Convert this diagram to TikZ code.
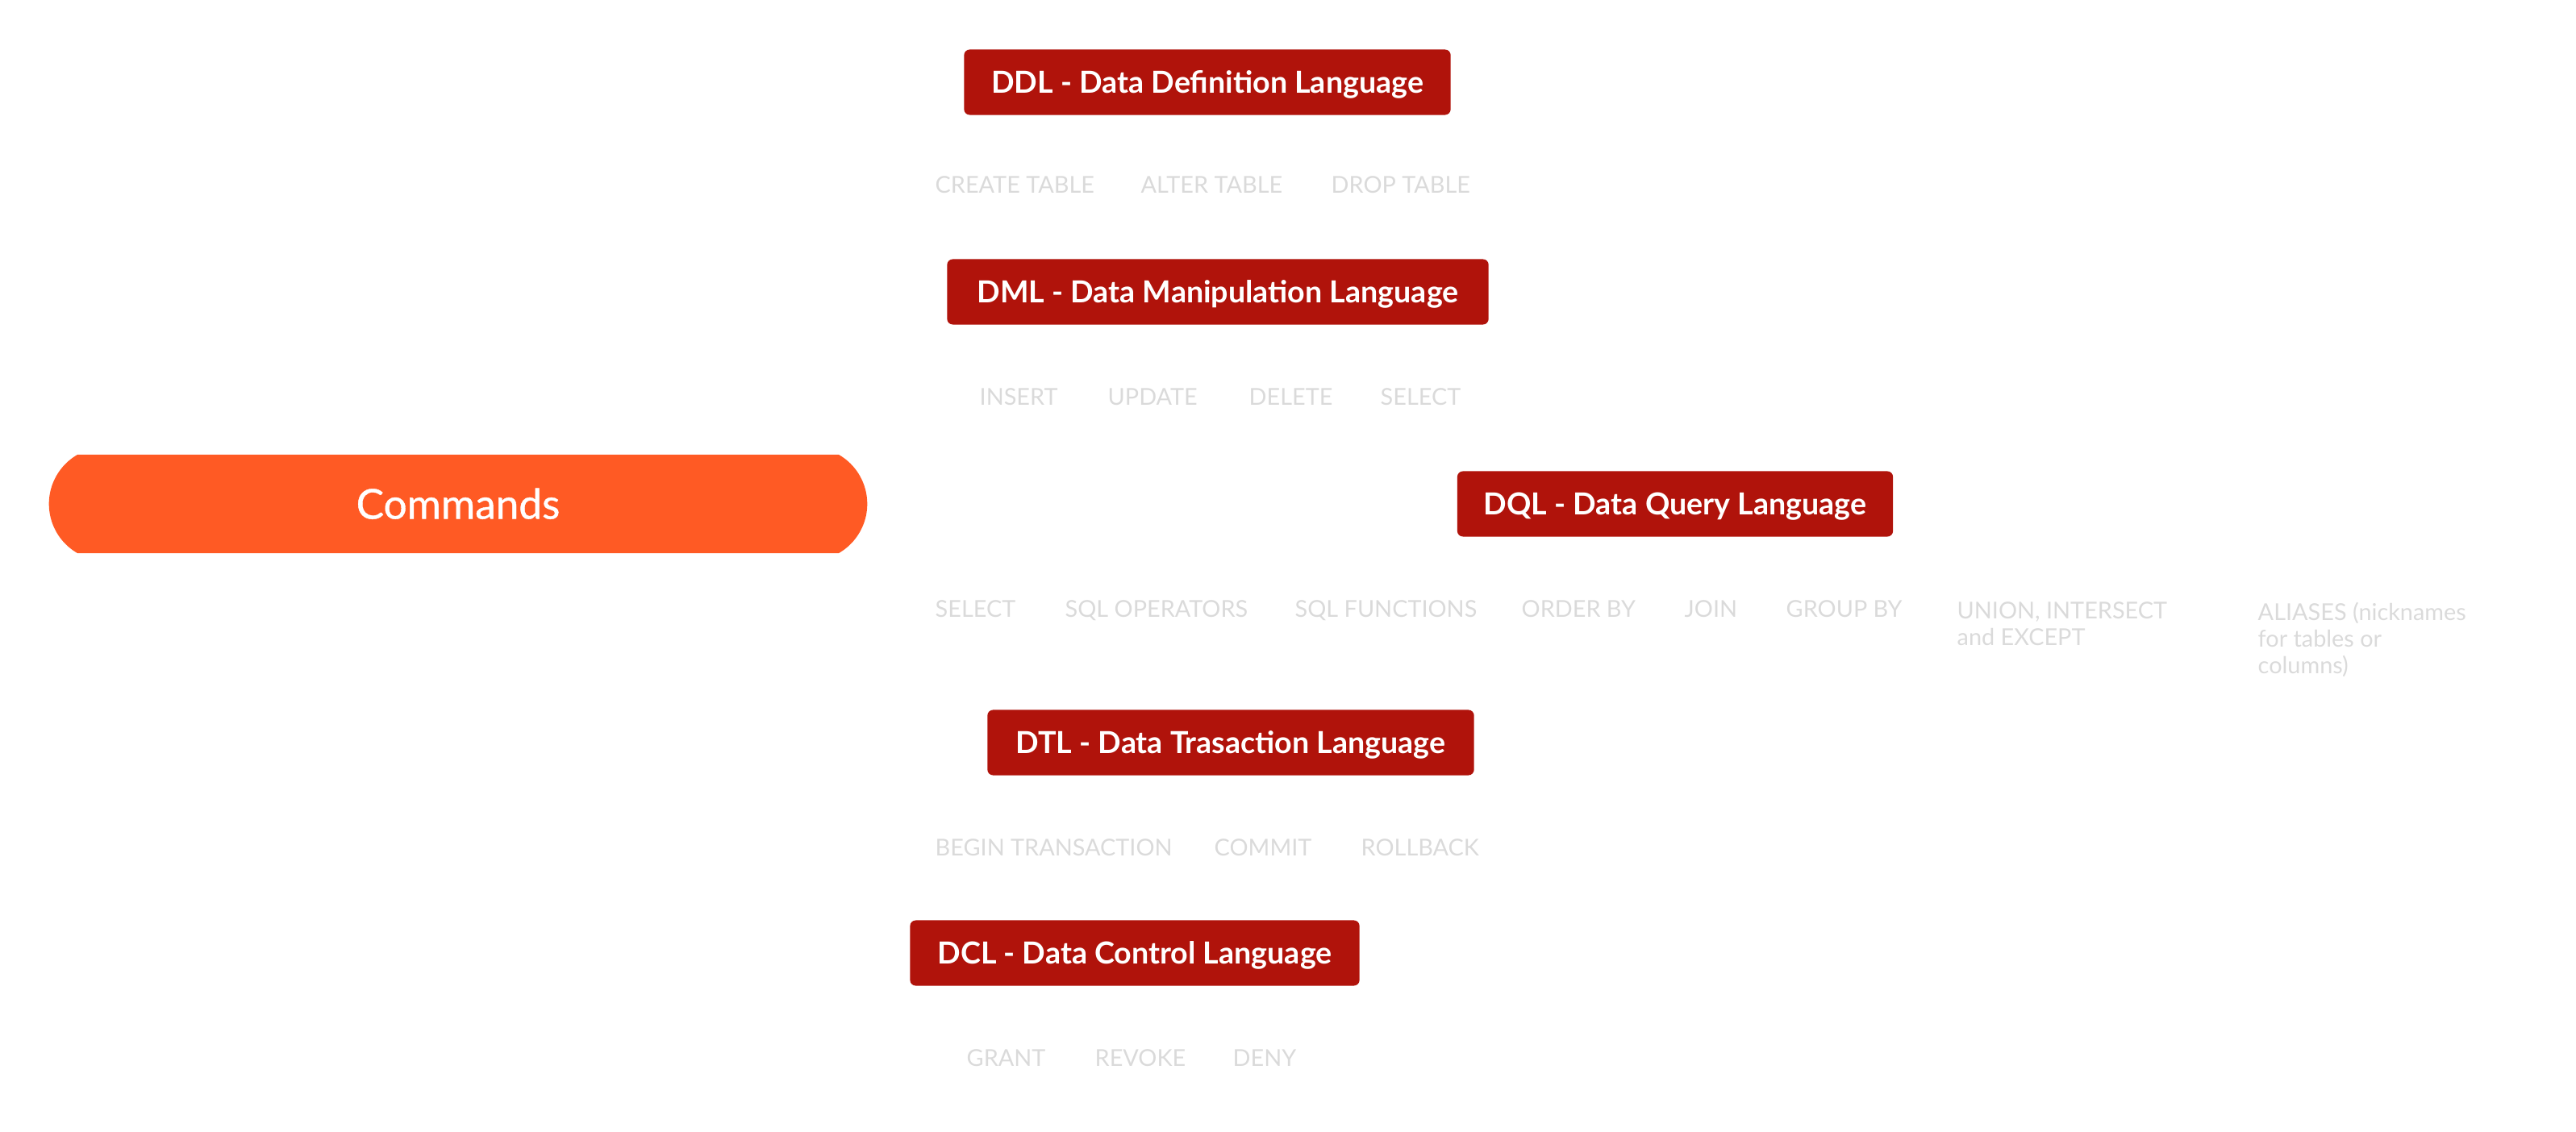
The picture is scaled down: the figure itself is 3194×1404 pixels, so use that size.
\documentclass[tikz,border=0pt]{standalone}
\usepackage{fontspec}
\setmainfont{Lato}
\newfontfamily\cmdfont[FakeBold=0.8]{Lato}
\usepackage{tikz}
\usetikzlibrary{shapes.misc}
\definecolor{cmdorange}{HTML}{FF5A24}
\definecolor{boxred}{HTML}{B0130B}
\definecolor{itemgray}{HTML}{DADADA}
\tikzset{
	langbox/.style={fill=boxred,text=white,font=\bfseries\fontsize{10.7}{13}\selectfont,rounded corners=0.7mm,minimum height=0.81cm,inner sep=0pt,text height=7.7pt,text depth=0pt},
	cmditem/.style={text=itemgray,font=\fontsize{8.2}{9.4}\selectfont,inner sep=0pt,anchor=base west},
	cmdlist/.style={text=itemgray,font=\fontsize{8.2}{9.4}\selectfont,inner sep=0pt,anchor=north west,align=left},
}

\begin{document}
\begin{tikzpicture}[x=0.01cm,y=-0.01cm]
	\useasboundingbox (0,0) rectangle (3194,1404);
	\node[rounded rectangle,rounded rectangle arc length=120,fill=cmdorange,text=white,font=\cmdfont\fontsize{14.6}{17}\selectfont,minimum width=10.14cm,minimum height=1.22cm,inner sep=0pt,text height=10.5pt,text depth=0pt] (cmd) at (568,625) {Commands};
	
	\node[langbox,minimum width=6.03cm] (ddl) at (1497,102) {DDL - Data Definition Language};
		\node[cmditem] (ddlcreate) at (1159,240) {CREATE TABLE};
		\node[cmditem] (ddlalter) at (1414,240) {ALTER TABLE};
		\node[cmditem] (ddldrop) at (1650,240) {DROP TABLE};
	
	\node[langbox,minimum width=6.71cm] (dml) at (1510,362) {DML - Data Manipulation Language};
		\node[cmditem] (dmlinsert) at (1214,503) {INSERT};
		\node[cmditem] (dmlupdate) at (1373,503) {UPDATE};
		\node[cmditem] (dmldelete) at (1548,503) {DELETE};
		\node[cmditem] (dmlselect) at (1711,503) {SELECT};
	
	\node[langbox,minimum width=5.40cm] (dql) at (2077,625) {DQL - Data Query Language};
		\node[cmditem] (dqlselect) at (1159,766) {SELECT};
		\node[cmditem] (dqlops) at (1320,766) {SQL OPERATORS};
		\node[cmditem] (dqlfunc) at (1605,766) {SQL FUNCTIONS};
		\node[cmditem] (dqlorder) at (1886,766) {ORDER BY};
		\node[cmditem] (dqljoin) at (2088,766) {JOIN};
		\node[cmditem] (dqlgroup) at (2214,766) {GROUP BY};
		\node[cmdlist] (dqlunion) at (2426,746) {UNION, INTERSECT\\and EXCEPT};
		\node[cmdlist] (dqlalias) at (2799,746) {ALIASES (nicknames\\for tables or\\columns)};
	
	\node[langbox,minimum width=6.03cm] (dtl) at (1526,921) {DTL - Data Trasaction Language};
		\node[cmditem] (dtlbegin) at (1159,1061) {BEGIN TRANSACTION};
		\node[cmditem] (dtlcommit) at (1505,1061) {COMMIT};
		\node[cmditem] (dtlroll) at (1687,1061) {ROLLBACK};
	
	\node[langbox,minimum width=5.57cm] (dcl) at (1407,1182) {DCL - Data Control Language};
		\node[cmditem] (dclgrant) at (1198,1322) {GRANT};
		\node[cmditem] (dclrevoke) at (1357,1322) {REVOKE};
		\node[cmditem] (dcldeny) at (1528,1322) {DENY};
\end{tikzpicture}
\end{document}
